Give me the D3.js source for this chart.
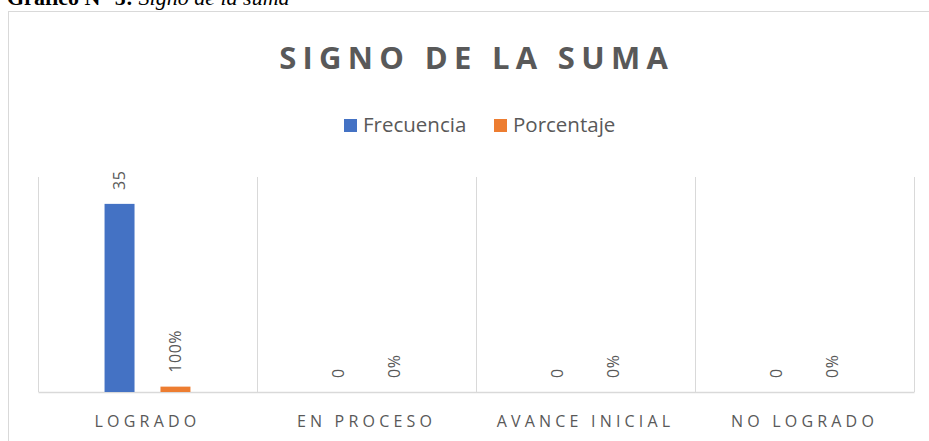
<!DOCTYPE html>
<html>
<head>
<meta charset="utf-8">
<script src="https://cdn.jsdelivr.net/npm/d3@7"></script>
<style>
  body { margin: 0; background: #fff; }
  svg { display: block; }
</style>
</head>
<body>
<div id="chart"></div>
<script>
// datos del grafico
var categorias = ["LOGRADO", "EN PROCESO", "AVANCE INICIAL", "NO LOGRADO"];
var frecuencia = [35, 0, 0, 0];
var porcentaje = [1, 0, 0, 0];
var etiquetasPorcentaje = ["100%", "0%", "0%", "0%"];
var series = ["Frecuencia", "Porcentaje"];
var colores = ["#4472C4", "#ED7D31"];

var W = 929, H = 441;
var margin = { top: 177, bottom: 49, left: 38, right: 15 };
var width = W - margin.left - margin.right,
    height = H - margin.top - margin.bottom;

var svg = d3.select("#chart").append("svg")
    .attr("width", W)
    .attr("height", H);

// caption cortado arriba (como en la imagen)
var cap = svg.append("text")
    .attr("x", 7).attr("y", 5)
    .attr("font-family", "Liberation Serif, Times New Roman, serif")
    .attr("font-size", 22)
    .attr("fill", "#000");
cap.append("tspan").attr("font-weight", "bold").text("Gráfico N° 5: ");
cap.append("tspan").attr("font-style", "italic").text("Signo de la suma");

// marco
svg.append("rect")
    .attr("x", 8.5).attr("y", 11.5)
    .attr("width", W).attr("height", H)
    .attr("fill", "none")
    .attr("stroke", "#d9d9d9");

var tituloSpacing = 6.3;
svg.append("text")
    .attr("x", 473.5 + tituloSpacing / 2).attr("y", 69)
    .attr("text-anchor", "middle")
    .attr("font-family", "Open Sans, sans-serif")
    .attr("font-weight", "bold")
    .attr("font-size", 31)
    .attr("letter-spacing", tituloSpacing)
    .attr("fill", "#595959")
    .text("SIGNO DE LA SUMA");

// leyenda
var leyenda = svg.append("g");
var legX = [344, 494];
series.forEach(function(s, i) {
    leyenda.append("rect")
        .attr("x", legX[i]).attr("y", 119)
        .attr("width", 13).attr("height", 13)
        .attr("fill", colores[i]);
    leyenda.append("text")
        .attr("x", legX[i] + 19).attr("y", 132)
        .attr("font-family", "Open Sans, sans-serif")
        .attr("font-size", 20.5)
        .attr("fill", "#595959")
        .text(s);
});

var g = svg.append("g")
    .attr("transform", "translate(" + margin.left + "," + margin.top + ")");

var x = d3.scaleBand()
    .domain(categorias)
    .range([0, width]);

var x1 = d3.scaleBand()
    .domain(series)
    .range([0, x.bandwidth()])
    .paddingInner(0.464)
    .paddingOuter(1.19);

var y = d3.scaleLinear()
    .domain([0, 40])
    .range([height, 0]);

// separadores verticales
g.selectAll(".sep")
    .data(d3.range(categorias.length + 1))
    .enter().append("line")
    .attr("x1", function(d) { return Math.round(d * x.bandwidth()) + 0.5; })
    .attr("x2", function(d) { return Math.round(d * x.bandwidth()) + 0.5; })
    .attr("y1", 0).attr("y2", height)
    .attr("stroke", "#d9d9d9");

var xAxis = d3.axisBottom(x).tickSize(0);
var ax = g.append("g")
    .attr("transform", "translate(0," + height + ")")
    .call(xAxis);
ax.select(".domain").attr("stroke", "#d9d9d9").attr("stroke-width", 1.5);
ax.selectAll("text")
    .attr("y", 35).attr("dy", 0)
    .attr("font-family", "Open Sans, sans-serif")
    .attr("font-size", 16)
    .attr("letter-spacing", 4.2)
    .attr("fill", "#595959");

var datos = categorias.map(function(c, i) {
    return [
        { cat: c, serie: series[0], v: frecuencia[i], lab: String(frecuencia[i]), col: colores[0] },
        { cat: c, serie: series[1], v: porcentaje[i], lab: etiquetasPorcentaje[i], col: colores[1] }
    ];
});

var grupo = g.selectAll(".cat")
    .data(datos)
    .enter().append("g")
    .attr("transform", function(d, i) { return "translate(" + x(categorias[i]) + ",0)"; });

grupo.selectAll("rect")
    .data(function(d) { return d; })
    .enter().append("rect")
    .attr("x", function(d) { return x1(d.serie); })
    .attr("width", x1.bandwidth())
    .attr("y", function(d) { return y(d.v); })
    .attr("height", function(d) { return height - y(d.v); })
    .attr("fill", function(d) { return d.col; });

grupo.selectAll(".lab")
    .data(function(d) { return d; })
    .enter().append("text")
    .attr("transform", function(d) {
        return "translate(" + (x1(d.serie) + x1.bandwidth() / 2 + 5.5) + "," + (y(d.v) - 14) + ") rotate(-90)";
    })
    .attr("font-family", "Open Sans, sans-serif")
    .attr("font-size", 16)
    .attr("letter-spacing", 0.5)
    .attr("fill", "#595959")
    .text(function(d) { return d.lab; });
</script>
</body>
</html>
